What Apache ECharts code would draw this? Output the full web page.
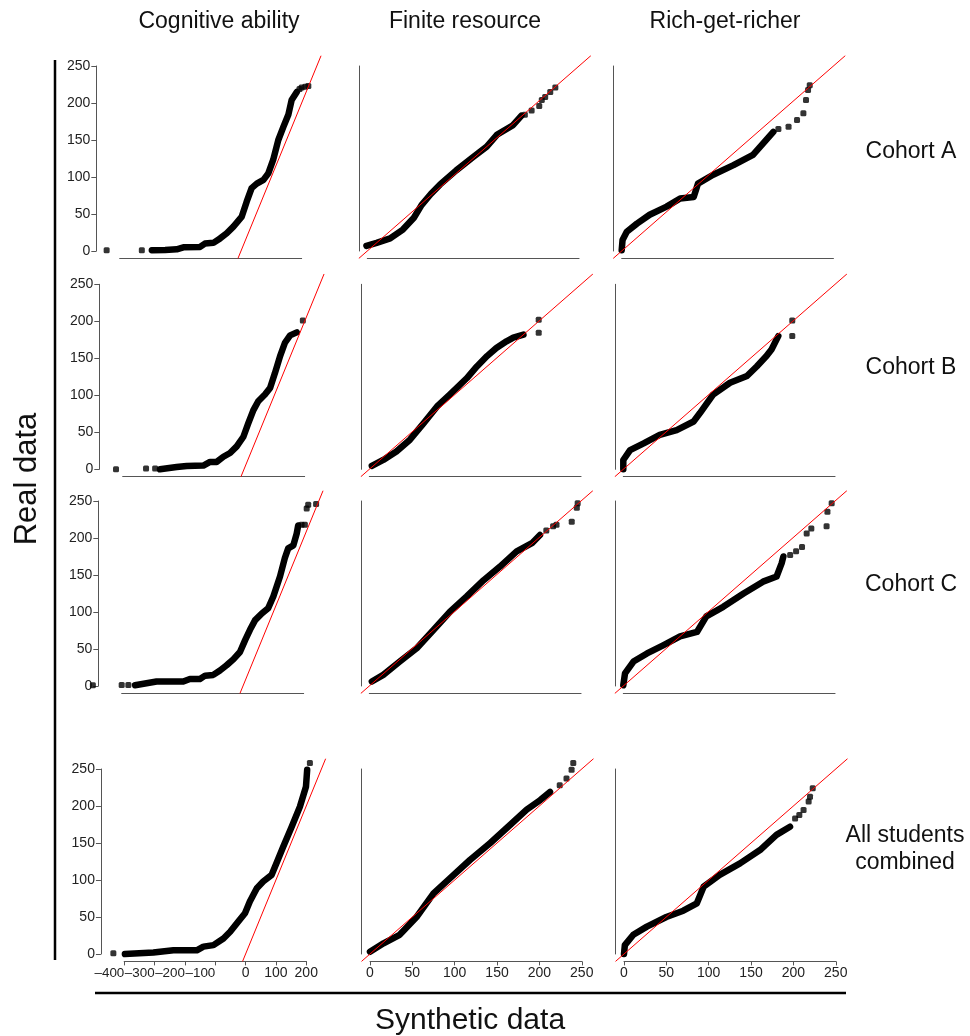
<!DOCTYPE html>
<html><head><meta charset="utf-8">
<script src="https://cdn.jsdelivr.net/npm/echarts@6/dist/echarts.min.js"></script>
<style>html,body{margin:0;padding:0;background:#fff}#c{width:970px;height:1036px}</style>
</head><body><div id="c"></div>
<script>
// ---------- labels ----------
const columnTitles = ['Cognitive ability', 'Finite resource', 'Rich-get-richer'];
const rowTitles = ['Cohort A', 'Cohort B', 'Cohort C', 'All students\ncombined'];
const xAxisTitle = 'Synthetic data';
const yAxisTitle = 'Real data';
const cogTicksX = [-400, -300, -200, -100, 0, 100, 200];
const qqTicksX = [0, 50, 100, 150, 200, 250];
const realTicksY = [0, 50, 100, 150, 200, 250];

// ---------- quantile pairs [synthetic, real] ----------
// Cognitive ability
const cogA_dense = [[-294,1],[-250,1.5],[-212,2.3],[-190,5],[-135,5.5],[-119,10],[-91,11],[-69,17],[-47,24],[-25,33],[2,46],[19,67],[35,85],[52,91],[74,96],[90,105],[106,123],[123,150],[140,168],[156,184],[167,204],[184,215]];
const cogA_sparse = [[-443,1],[-327,1],[193,219],[200,221],[212,222],[222,223]];
const cogB_dense = [[-277,0],[-222,3],[-189,4.5],[-134,5],[-112,10],[-90,10],[-68,17],[-46,22],[-24,31],[-2,44],[14,62],[31,80],[47,92],[69,101],[86,110],[102,130],[119,153],[135,171],[152,181],[174,185]];
const cogB_sparse = [[-422,0],[-323,1],[-293,1],[194,201]];
const cogC_dense = [[-356,1],[-285,6],[-197,6],[-175,9.5],[-142,9.5],[-125,14],[-98,15],[-76,21],[-54,28],[-32,36],[-10,46],[7,62],[23,76],[40,89],[62,98],[83,105],[100,121],[122,148],[138,173],[149,186],[166,190],[177,206],[182,217]];
const cogC_sparse = [[-495,1],[-400,1.4],[-378,1.4],[193,218],[204,218],[210,240],[215,245],[241,246]];
const cogD_dense = [[-398,0],[-304,2],[-238,5],[-161,5],[-139,10],[-106,12],[-73,21],[-51,30],[-24,44],[-2,55],[14,71],[37,89],[58,98],[86,107],[102,123],[124,145],[152,172],[179,199],[199,226],[203,249]];
const cogD_sparse = [[-436,1],[212,258]];
// Finite resource
const finA_dense = [[-1,7],[11,11],[27,17],[42,29],[55,45],[64,62],[75,77],[86,90],[105,109],[125,127],[141,141],[153,157],[172,170],[182,183]];
const finA_sparse = [[186,184],[194,190],[203,196],[206,204],[210,208],[216,215],[222,221]];
const finB_dense = [[3,4.5],[16.5,12.6],[32,24],[48,40],[64,62],[80,85],[95,101],[115,123],[127,139],[139,153],[150,164],[162,173],[170,178],[182,182]];
const finB_sparse = [[200,202],[200,184.5]];
const finC_dense = [[3,6],[16.5,15],[36,33],[56,51],[76,76],[95,100],[115,121],[135,143],[154,161],[174,182],[192,193],[201.5,204]];
const finC_sparse = [[209,210],[217,216],[221,218],[239,222],[245,241],[246,247]];
const finD_dense = [[0,3],[16,14.5],[35,26],[55,50],[75,82],[94,102],[118,127],[142,150],[165,174],[185,195],[201,208],[212.5,219]];
const finD_sparse = [[224,228],[232,237],[238,249],[240,258]];
// Rich-get-richer
const rgrA_dense = [[0,1],[1,15],[6,26],[18,37],[33,49],[53,60],[69,71],[85,73],[90,91],[108,103],[132,116],[155,130],[167,145.5],[179,161]];
const rgrA_sparse = [[185,165],[197,168],[207,177],[214.5,186],[217.6,204],[220,217.6],[222,224]];
const rgrB_dense = [[0,0],[0,12.6],[8,26],[24,35],[43,46.5],[63,53],[83,64.6],[90.5,76],[106,101],[126,117],[146,126],[157.5,139],[169,153],[175,162],[179,171],[183,180]];
const rgrB_sparse = [[199.5,201],[199.5,180]];
const rgrC_dense = [[0,1],[2,17],[12,33],[28,44],[47,55],[67,67],[87,73],[98,94],[118,107],[142,125],[165,141],[181,148],[187,166],[189,175]];
const rgrC_sparse = [[197,177],[204,182],[211,188],[216.5,206],[222,213],[240,216],[241,235.5],[246,247]];
const rgrD_dense = [[0,0],[1,12],[11,26],[27,37],[50,50],[70,58.5],[86,68.5],[94,91],[113,107],[137,122.5],[160.6,140.5],[180,161],[196,172]];
const rgrD_sparse = [[202,183],[207,188],[212,194.6],[218,206],[219.6,212.6],[222.8,224]];

const panelData = [
  [[cogA_dense, cogA_sparse], [finA_dense, finA_sparse], [rgrA_dense, rgrA_sparse]],
  [[cogB_dense, cogB_sparse], [finB_dense, finB_sparse], [rgrB_dense, rgrB_sparse]],
  [[cogC_dense, cogC_sparse], [finC_dense, finC_sparse], [rgrC_dense, rgrC_sparse]],
  [[cogD_dense, cogD_sparse], [finD_dense, finD_sparse], [rgrD_dense, rgrD_sparse]]
];

// ---------- layout ----------
const FONT = 'Liberation Sans, Arial, Helvetica, sans-serif';
const rowY0 = [251, 469.3, 686, 954];      // pixel of real = 0
const yPPU = 0.74;
const colX0 = [[241, 244, 243, 245.6], [367.3, 369.3, 369.3, 370], [621.7, 623.3, 623.3, 624]];
const colPPU = [0.3033, 0.847, 0.847];
const colXRange = [[-477, 266], [-10, 264], [-10, 264]];
const yRange = [-10, 264];
const axisLineStyle = { color: '#555', width: 1 };
const fmt = v => (v < 0 ? '\u2013' + (-v) : String(v));

const grids = [], xAxes = [], yAxes = [], series = [];

function bottomAxis(ai, ticks, values, showLabels, align, fontSize) {
  return {
    gridIndex: ai, type: 'value', min: ticks[0], max: ticks[ticks.length - 1], interval: ticks[1] - ticks[0],
    position: 'bottom', offset: 10 * yPPU,
    axisLine: { show: true, onZero: false, lineStyle: axisLineStyle },
    axisTick: { show: showLabels, length: 4, lineStyle: axisLineStyle, customValues: values },
    axisLabel: {
      show: showLabels, margin: 5, fontSize: fontSize, color: '#222', fontFamily: FONT, hideOverlap: false,
      align: align, showMinLabel: true, showMaxLabel: true, customValues: values, formatter: fmt
    },
    splitLine: { show: false }
  };
}

panelData.forEach((row, r) => {
  row.forEach((pd, c) => {
    const x0 = colX0[c][r], xp = colPPU[c], y0 = rowY0[r];
    const xr = colXRange[c];
    const dLeft = x0 + xr[0] * xp;
    // data grid
    const gi = grids.length;
    grids.push({ left: dLeft, top: y0 - yRange[1] * yPPU, width: (xr[1] - xr[0]) * xp, height: (yRange[1] - yRange[0]) * yPPU });
    const xi = xAxes.length, yi = yAxes.length;
    xAxes.push({ gridIndex: gi, type: 'value', min: xr[0], max: xr[1], show: false });
    yAxes.push({ gridIndex: gi, type: 'value', min: yRange[0], max: yRange[1], show: false });
    series.push({
      type: 'line', xAxisIndex: xi, yAxisIndex: yi, data: pd[0], symbol: 'none', silent: true,
      lineStyle: { color: '#000', width: 6.5, cap: 'round', join: 'round' }, clip: false, z: 2
    });
    series.push({
      type: 'scatter', xAxisIndex: xi, yAxisIndex: yi, data: pd[1], symbol: 'roundRect', symbolSize: 6,
      itemStyle: { color: '#000' }, silent: true, clip: false, z: 2
    });
    series.push({
      type: 'line', xAxisIndex: xi, yAxisIndex: yi, data: [[yRange[0], yRange[0]], [yRange[1], yRange[1]]],
      symbol: 'none', silent: true, lineStyle: { color: '#ff0000', width: 1 }, z: 3
    });
    // axis grid
    const ticks = c === 0 ? cogTicksX : qqTicksX;
    const aLeft = x0 + ticks[0] * xp;
    const ai = grids.length;
    grids.push({ left: aLeft, top: y0 - 250 * yPPU, width: (ticks[ticks.length - 1] - ticks[0]) * xp, height: 250 * yPPU });
    const showX = r === 3;
    if (c === 0 && showX) {
      // negative labels sit to the left of their ticks, as in the original figure
      xAxes.push(bottomAxis(ai, ticks, ticks.filter(v => v < 0), true, 'right', 13.4));
      xAxes.push(bottomAxis(ai, ticks, ticks.filter(v => v >= 0), true, 'center', 14));
    } else {
      xAxes.push(bottomAxis(ai, ticks, ticks, showX, 'center', 14));
    }
    yAxes.push({
      gridIndex: ai, type: 'value', min: 0, max: 250, interval: 50, position: 'left',
      offset: aLeft - dLeft,
      axisLine: { show: true, onZero: false, lineStyle: axisLineStyle },
      axisTick: { show: c === 0, length: 5, lineStyle: axisLineStyle, customValues: realTicksY },
      axisLabel: { show: c === 0, margin: 6, fontSize: 14, color: '#222', fontFamily: FONT, showMinLabel: true, showMaxLabel: true, customValues: realTicksY },
      splitLine: { show: false }
    });
  });
});

const colCenters = [219, 465, 725];
const rowLabelPos = [[911, 152], [911, 368], [911, 585], [905, 849]];
const graphic = [];
columnTitles.forEach((t, i) => graphic.push({
  type: 'text', x: colCenters[i], y: 22,
  style: { text: t, fontSize: 23, fontFamily: FONT, fill: '#111', textAlign: 'center', textVerticalAlign: 'middle' }
}));
rowTitles.forEach((t, i) => graphic.push({
  type: 'text', x: rowLabelPos[i][0], y: rowLabelPos[i][1],
  style: { text: t, fontSize: 23, fontFamily: FONT, fill: '#111', textAlign: 'center', textVerticalAlign: 'middle', lineHeight: 27 }
}));
graphic.push({
  type: 'text', x: 27, y: 479, rotation: Math.PI / 2,
  style: { text: yAxisTitle, fontSize: 31, fontFamily: FONT, fill: '#111', textAlign: 'center', textVerticalAlign: 'middle' }
});
graphic.push({
  type: 'text', x: 470, y: 1021,
  style: { text: xAxisTitle, fontSize: 30, fontFamily: FONT, fill: '#111', textAlign: 'center', textVerticalAlign: 'middle' }
});
graphic.push({ type: 'line', shape: { x1: 55, y1: 60, x2: 55, y2: 960 }, style: { stroke: '#000', lineWidth: 2.5 } });
graphic.push({ type: 'line', shape: { x1: 95, y1: 993, x2: 846, y2: 993 }, style: { stroke: '#000', lineWidth: 2.5 } });

const chart = echarts.init(document.getElementById('c'));
chart.setOption({
  animation: false,
  backgroundColor: '#fff',
  grid: grids, xAxis: xAxes, yAxis: yAxes, series: series, graphic: graphic
});
</script>
</body></html>
